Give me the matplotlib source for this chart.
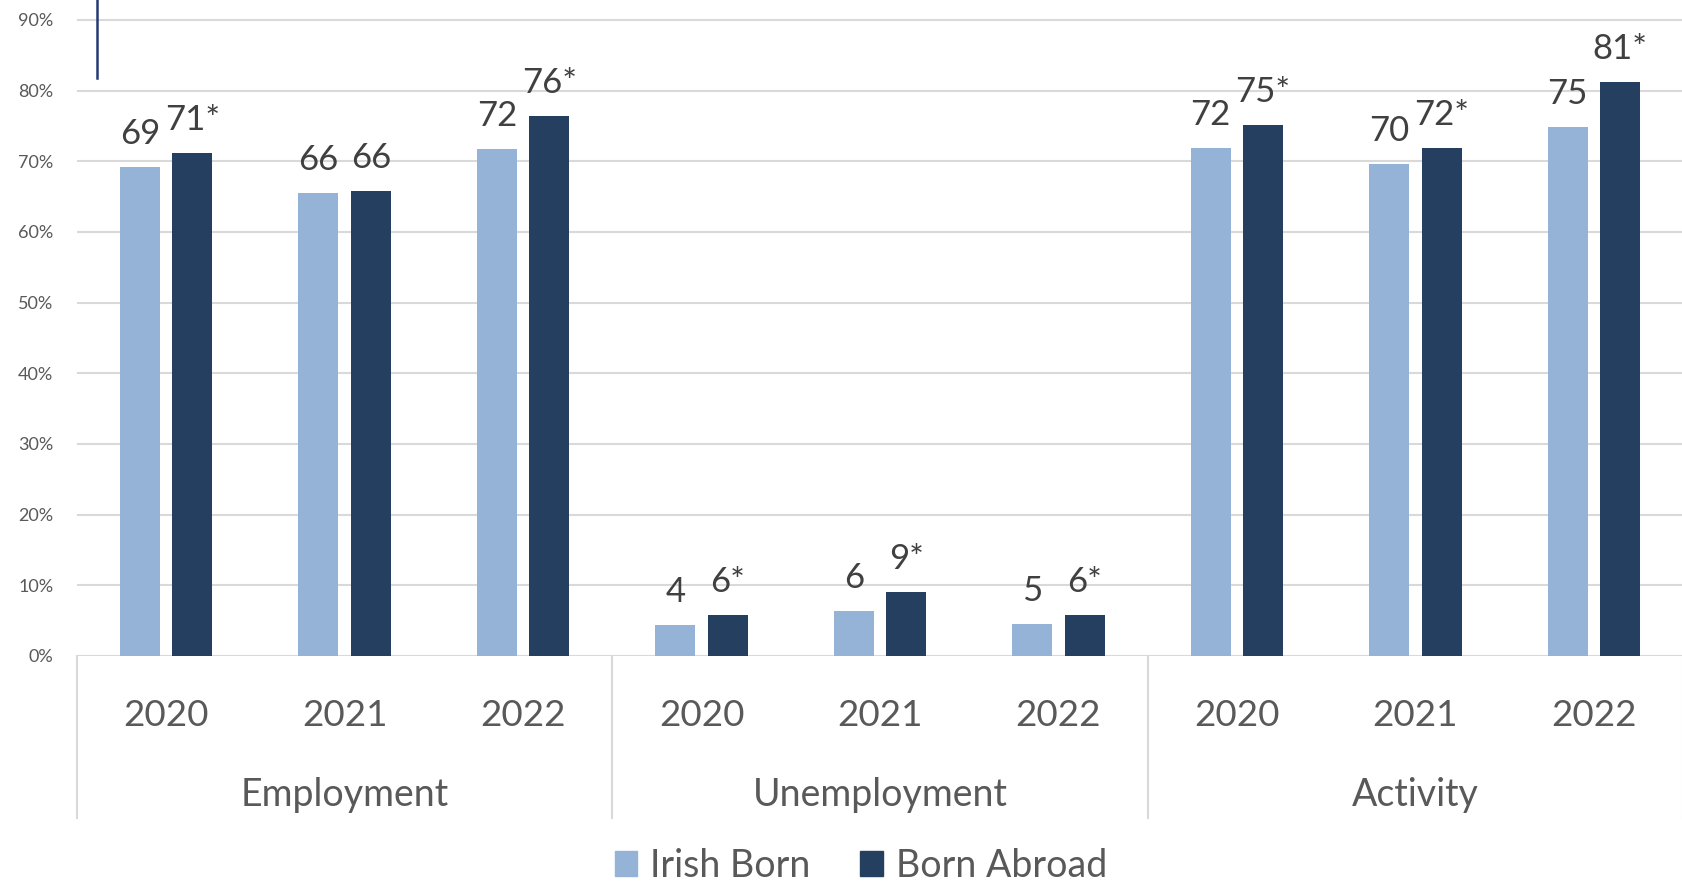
import numpy as np
import matplotlib.pyplot as plt
from matplotlib.patches import Patch
from matplotlib.lines import Line2D
from matplotlib.transforms import blended_transform_factory

plt.rcParams['font.family'] = ['Lato', 'DejaVu Sans']

W, H = 1682, 885
IRISH_COL = "#95B3D7"
ABROAD_COL = "#243F60"
GRID_COL = "#D9D9D9"
TEXT_COL = "#595959"
LABEL_COL = "#404040"

groups = ["Employment", "Unemployment", "Activity"]
years = ["2020", "2021", "2022"]
irish_born = [69.2, 65.5, 71.7, 4.4, 6.4, 4.5, 71.9, 69.6, 74.8]
born_abroad = [71.2, 65.8, 76.4, 5.8, 9.0, 5.8, 75.1, 71.9, 81.2]
# significant difference flag for born abroad
abroad_sig = [True, False, True, True, True, True, True, True, True]


def fig_y(px_from_top):
    return 1 - px_from_top / H


def value_label(v, star=False):
    return str(int(np.floor(v + 0.5))) + ("*" if star else "")


fig = plt.figure(figsize=(W / 100, H / 100), dpi=100)
ax = fig.add_axes([77 / W, 229 / H, 1606 / W, 656 / H])

x = np.arange(len(irish_born))
bar_w = 0.224
off = 0.147
b1 = ax.bar(x - off, irish_born, bar_w, color=IRISH_COL, zorder=3)
b2 = ax.bar(x + off, born_abroad, bar_w, color=ABROAD_COL, zorder=3)

for rect, v in zip(b1, irish_born):
    ax.annotate(value_label(v), (rect.get_x() + rect.get_width() / 2, v),
                xytext=(0, 16.5), textcoords="offset points",
                ha="center", va="baseline", fontsize=25, color=LABEL_COL)
for rect, v, s in zip(b2, born_abroad, abroad_sig):
    ax.annotate(value_label(v, s), (rect.get_x() + rect.get_width() / 2, v),
                xytext=(0, 16.5), textcoords="offset points",
                ha="center", va="baseline", fontsize=25, color=LABEL_COL)

ax.set_xlim(-0.5, len(x) - 0.5)
ax.set_ylim(0, 92.83)
ax.set_yticks(np.arange(0, 91, 10))
ax.set_yticklabels([f"{t}%" for t in range(0, 91, 10)])
ax.tick_params(axis="y", length=0, pad=17, labelsize=13, labelcolor=TEXT_COL)
ax.set_xticks([])
ax.grid(axis="y", color=GRID_COL, linewidth=1.5, zorder=0)
for sp in ax.spines.values():
    sp.set_visible(False)

# two-level category axis below the plot
tr = blended_transform_factory(ax.transData, fig.transFigure)
for i, xi in enumerate(x):
    ax.text(xi, fig_y(726), years[i % 3], transform=tr, ha="center",
            va="baseline", fontsize=26.5, color=TEXT_COL, clip_on=False)
for g, name in enumerate(groups):
    ax.text(g * 3 + 1, fig_y(806), name, transform=tr, ha="center",
            va="baseline", fontsize=27, color=TEXT_COL, clip_on=False)
for xb in [-0.5, 2.5, 5.5, 8.5]:
    ax.add_line(Line2D([xb, xb], [fig_y(656), fig_y(818)], transform=tr,
                       color=GRID_COL, linewidth=1.5, clip_on=False))

# thin vertical marker at top left
fig.add_artist(Line2D([97 / W, 97 / W], [fig_y(0), fig_y(78)],
                      color="#243A73", linewidth=1.8))

handles = [Patch(color=IRISH_COL), Patch(color=ABROAD_COL)]
fig.legend(handles, ["Irish Born", "Born Abroad"], loc="center",
           bbox_to_anchor=(861 / W, fig_y(866)), ncol=2, frameon=False,
           fontsize=27, handlelength=0.59, handleheight=0.64,
           handletextpad=0.35, columnspacing=1.33, labelcolor=TEXT_COL,
           borderpad=0, borderaxespad=0)

fig.savefig("out.png", dpi=100)
